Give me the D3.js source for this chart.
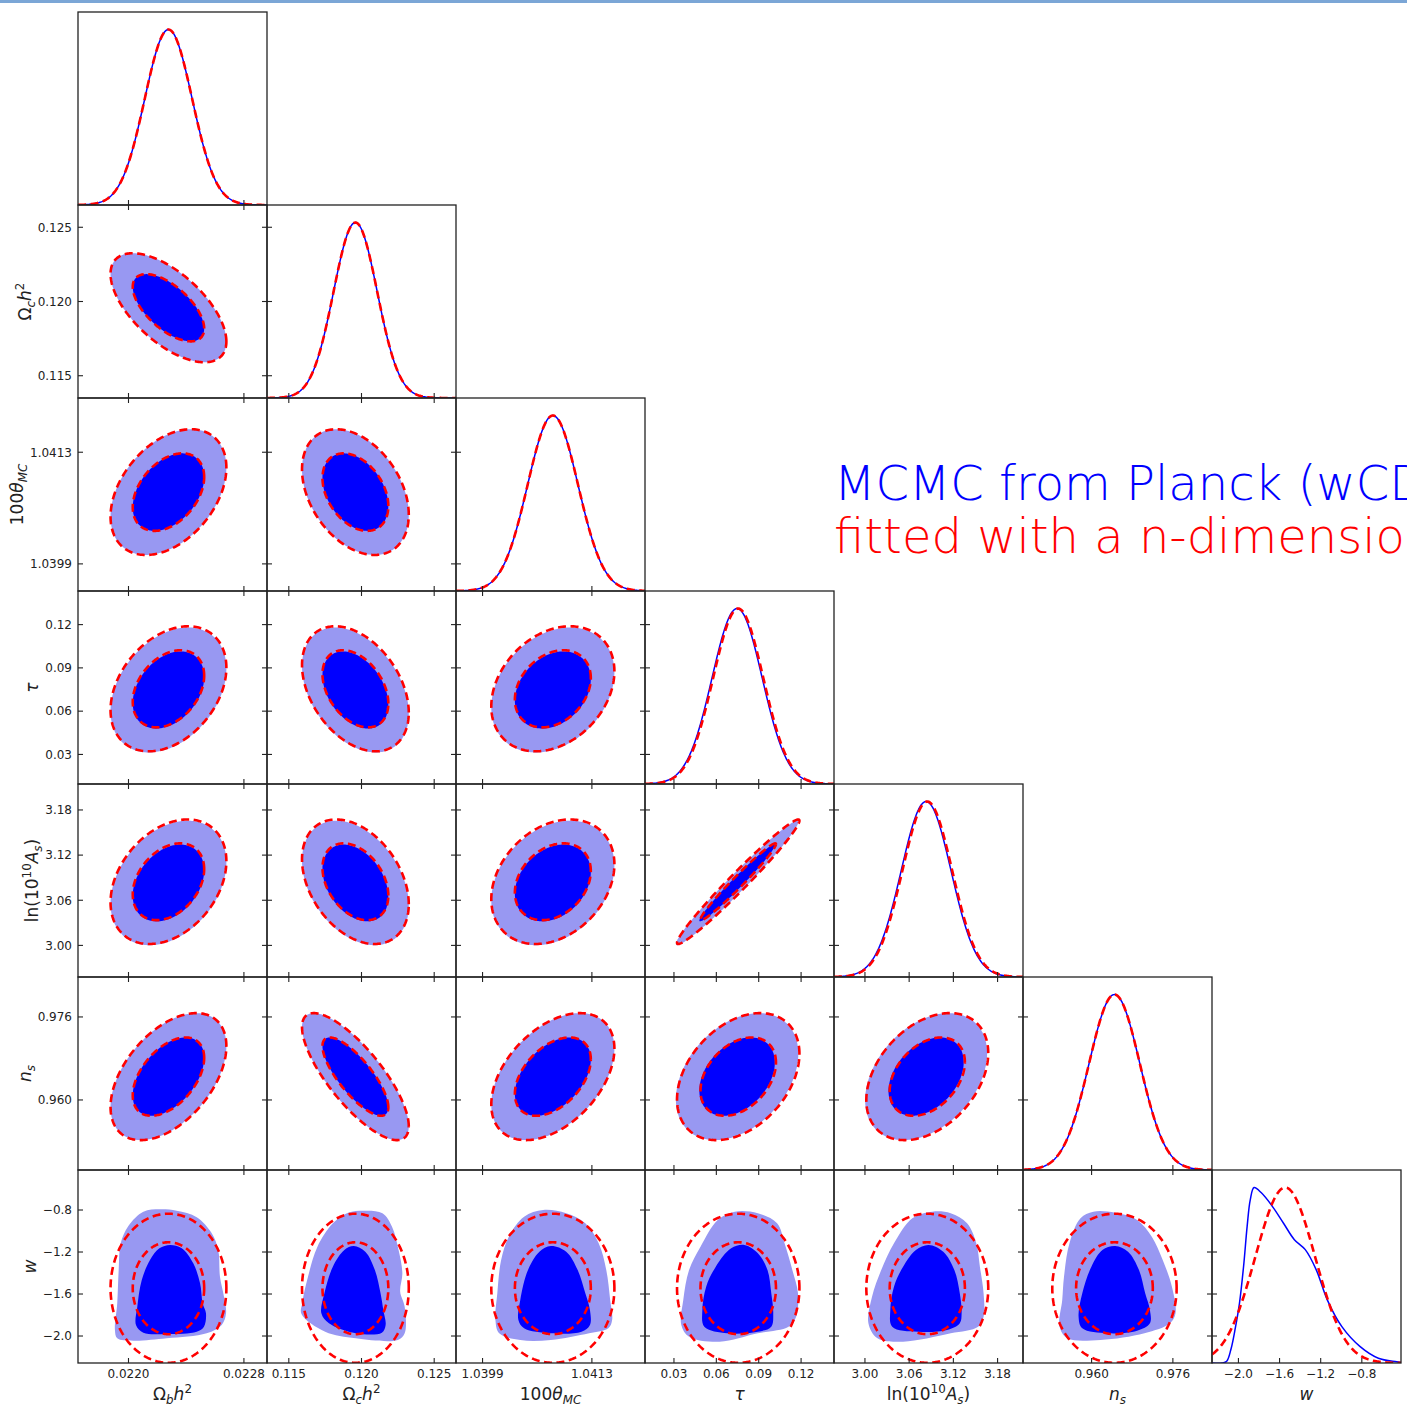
<!DOCTYPE html>
<html>
<head>
<meta charset="utf-8">
<script src="https://cdn.jsdelivr.net/npm/d3@7"></script>
<style>
  html, body { margin: 0; padding: 0; background: #fff; }
  svg { display: block; }
  text { font-family: "DejaVu Sans", "Liberation Sans", sans-serif; }
</style>
</head>
<body>
<svg id="chart" width="1407" height="1407"></svg>
<script>
// ---- parameters of the wCDM chain ----
const paramNames = ["omegabh2", "omegach2", "theta", "tau", "logA", "ns", "w"];

const axisLabels = [
  [["Ω", "n"], ["b", "subi"], ["h", "i"], ["2", "sup"]],
  [["Ω", "n"], ["c", "subi"], ["h", "i"], ["2", "sup"]],
  [["100", "n"], ["θ", "i"], ["MC", "subi"]],
  [["τ", "i"]],
  [["ln(10", "n"], ["10", "sup"], ["A", "i"], ["s", "subi"], [")", "n"]],
  [["n", "i"], ["s", "subi"]],
  [["w", "i"]]
];

const domains = [
  [0.02165, 0.02296],
  [0.1135, 0.1265],
  [1.03956, 1.04198],
  [0.0095, 0.1433],
  [2.958, 3.2145],
  [0.9465, 0.9837],
  [-2.257, -0.419]
];

const tickValues = [
  [0.0220, 0.0228],
  [0.115, 0.120, 0.125],
  [1.0399, 1.0413],
  [0.03, 0.06, 0.09, 0.12],
  [3.00, 3.06, 3.12, 3.18],
  [0.960, 0.976],
  [-2.0, -1.6, -1.2, -0.8]
];

const tickLabels = [
  ["0.0220", "0.0228"],
  ["0.115", "0.120", "0.125"],
  ["1.0399", "1.0413"],
  ["0.03", "0.06", "0.09", "0.12"],
  ["3.00", "3.06", "3.12", "3.18"],
  ["0.960", "0.976"],
  ["−2.0", "−1.6", "−1.2", "−0.8"]
];

// n-dimensional Gaussian fit
const fitMean  = [0.022277, 0.11958, 1.04080, 0.0755, 3.0846, 0.9645, -1.545];
const fitSigma = [0.000164, 0.00150, 0.000322, 0.0177, 0.0338, 0.0050, 0.290];

// MCMC summary for the (near-Gaussian) base parameters
const mcmcMean  = [0.022277, 0.11958, 1.04080, 0.0747, 3.0830, 0.9645];
const mcmcSigma = [0.000164, 0.00150, 0.000322, 0.0177, 0.0338, 0.0050];

// correlation matrix (order as paramNames)
const corr = [
  [ 1.00, -0.62,  0.39,  0.34,  0.33,  0.48, 0.00],
  [-0.62,  1.00, -0.36, -0.38, -0.36, -0.78, 0.00],
  [ 0.39, -0.36,  1.00,  0.28,  0.28,  0.44, 0.00],
  [ 0.34, -0.38,  0.28,  1.00,  0.98,  0.36, 0.00],
  [ 0.33, -0.36,  0.28,  0.98,  1.00,  0.37, 0.00],
  [ 0.48, -0.78,  0.44,  0.36,  0.37,  1.00, 0.00],
  [ 0.00,  0.00,  0.00,  0.00,  0.00,  0.00, 1.00]
];

// chi-square levels for the 95% and 68% two-dimensional regions
const contourLevels = [5.991, 2.279];

// MCMC marginal of w (normalised to peak 1)
const mcmcW1D = [
  [-2.257, 0], [-2.160, 0], [-2.114, 0.01], [-2.072, 0.08], [-2.030, 0.20],
  [-1.990, 0.34], [-1.950, 0.55], [-1.915, 0.78], [-1.885, 0.93], [-1.848, 1.0],
  [-1.777, 0.970], [-1.670, 0.893], [-1.563, 0.798], [-1.456, 0.703], [-1.350, 0.646],
  [-1.243, 0.531], [-1.136, 0.36], [-0.994, 0.207], [-0.816, 0.093], [-0.639, 0.027],
  [-0.461, 0.007], [-0.419, 0.003]
];

// MCMC 95% regions in the (parameter, w) planes
const mcmcWOuter = [
  [[0.022103,-0.816],[0.022218,-0.793],[0.022334,-0.807],[0.022473,-0.869],[0.022577,-1.022],[0.022622,-1.181],[0.022634,-1.435],[0.022662,-1.626],[0.022676,-1.784],[0.022646,-1.895],[0.022542,-1.974],[0.022265,-2.022],[0.022033,-2.045],[0.021922,-2.022],[0.021906,-1.943],[0.021922,-1.688],[0.021932,-1.371],[0.021946,-1.117],[0.021999,-0.952]],
  [[0.12013,-0.807],[0.12144,-0.831],[0.12210,-0.959],[0.12255,-1.181],[0.12281,-1.403],[0.12266,-1.578],[0.12297,-1.721],[0.12297,-1.974],[0.12250,-2.038],[0.11961,-2.022],[0.11750,-1.959],[0.11587,-1.790],[0.11592,-1.688],[0.11632,-1.435],[0.11697,-1.149],[0.11803,-0.927],[0.11908,-0.826]],
  [[1.040677,-0.800],[1.040971,-0.831],[1.041216,-0.927],[1.041387,-1.117],[1.041484,-1.371],[1.041534,-1.657],[1.041559,-1.848],[1.041510,-1.927],[1.041264,-1.974],[1.040775,-2.038],[1.040383,-2.038],[1.040113,-1.974],[1.040065,-1.848],[1.040089,-1.593],[1.040138,-1.276],[1.040236,-1.054],[1.040432,-0.864]],
  [[0.0731,-0.816],[0.0894,-0.831],[0.1030,-0.927],[0.1083,-1.117],[0.1138,-1.371],[0.1178,-1.593],[0.1165,-1.816],[0.1111,-1.911],[0.0894,-1.974],[0.0623,-2.054],[0.0407,-2.007],[0.0352,-1.895],[0.0366,-1.657],[0.0407,-1.371],[0.0488,-1.149],[0.0610,-0.895]],
  [[3.0915,-0.816],[3.1164,-0.831],[3.1386,-0.927],[3.1511,-1.117],[3.1560,-1.340],[3.1610,-1.593],[3.1610,-1.816],[3.1536,-1.911],[3.1164,-1.974],[3.0518,-2.054],[3.0170,-2.022],[3.0047,-1.879],[3.0096,-1.626],[3.0221,-1.371],[3.0394,-1.117],[3.0643,-0.879]],
  [[0.96034,-0.816],[0.96465,-0.826],[0.96896,-0.895],[0.97185,-1.054],[0.97400,-1.276],[0.97581,-1.530],[0.97652,-1.784],[0.97543,-1.879],[0.97040,-1.974],[0.96177,-2.038],[0.95530,-2.022],[0.95370,-1.911],[0.95422,-1.657],[0.95457,-1.435],[0.95565,-1.117],[0.95782,-0.879]]
];

// MCMC 68% regions in the (parameter, w) planes
const mcmcWInner = [
  [[0.022288,-1.133],[0.022369,-1.165],[0.022449,-1.308],[0.022496,-1.498],[0.022514,-1.688],[0.022537,-1.784],[0.022523,-1.911],[0.022473,-1.959],[0.022265,-1.981],[0.022103,-1.968],[0.022052,-1.895],[0.022061,-1.721],[0.022092,-1.467],[0.022149,-1.276],[0.022214,-1.165]],
  [[0.11947,-1.143],[0.12026,-1.197],[0.12092,-1.371],[0.12131,-1.593],[0.12150,-1.752],[0.12166,-1.895],[0.12140,-1.968],[0.11961,-1.974],[0.11776,-1.879],[0.11724,-1.784],[0.11745,-1.593],[0.11803,-1.340],[0.11882,-1.181]],
  [[1.040775,-1.143],[1.040971,-1.197],[1.041118,-1.371],[1.041216,-1.593],[1.041275,-1.752],[1.041275,-1.895],[1.041167,-1.959],[1.040775,-1.974],[1.040432,-1.927],[1.040359,-1.848],[1.040383,-1.657],[1.040482,-1.371],[1.040628,-1.197]],
  [[0.0799,-1.133],[0.0894,-1.212],[0.0962,-1.371],[0.0989,-1.593],[0.1003,-1.784],[0.0989,-1.911],[0.0894,-1.959],[0.0678,-1.974],[0.0515,-1.911],[0.0501,-1.752],[0.0528,-1.530],[0.0596,-1.340],[0.0705,-1.165]],
  [[3.0865,-1.133],[3.1063,-1.197],[3.1213,-1.371],[3.1287,-1.593],[3.1312,-1.784],[3.1287,-1.879],[3.1114,-1.943],[3.0717,-1.959],[3.0370,-1.911],[3.0344,-1.752],[3.0394,-1.530],[3.0518,-1.340],[3.0692,-1.181]],
  [[0.96465,-1.143],[0.96717,-1.197],[0.96933,-1.371],[0.97055,-1.593],[0.97148,-1.752],[0.97148,-1.879],[0.96896,-1.949],[0.96321,-1.974],[0.95817,-1.927],[0.95744,-1.816],[0.95817,-1.593],[0.95996,-1.340],[0.96213,-1.181]]
];

const titleLines = [
  { text: "MCMC from Planck (wCDM)", color: "#0000ff" },
  { text: "fitted with a n-dimensional Gaussian", color: "#ff0000" }
];

// ---- layout ----
const N = paramNames.length;
const X0 = 78, Y0 = 12, PW = 189, PH = 193;
const BLUE = "#0000ff", LIGHT = "#9898f2", RED = "#ff0000", INK = "#222";
const TICK = 5;

const svg = d3.select("#chart");
svg.append("rect").attr("x", 0).attr("y", 0).attr("width", 1407).attr("height", 3).attr("fill", "#7ba6d6");
const defs = svg.append("defs");

const xs = domains.map((d, i) => d3.scaleLinear().domain(d).range([X0 + i * PW, X0 + (i + 1) * PW]));
const ys = domains.map((d, i) => d3.scaleLinear().domain(d).range([Y0 + (i + 1) * PH, Y0 + i * PH]));

// contour of a bivariate Gaussian at a given chi-square level
function gaussEllipse(i, j, mean, sigma, k2) {
  const k = Math.sqrt(k2), r = corr[i][j], s = Math.sqrt(1 - r * r);
  return d3.range(0, 241).map(n => {
    const t = n / 240 * 2 * Math.PI;
    return [mean[i] + k * sigma[i] * Math.cos(t),
            mean[j] + k * sigma[j] * (r * Math.cos(t) + s * Math.sin(t))];
  });
}
// normalised 1D Gaussian profile across a parameter range
function gaussProfile(i, mean, sigma) {
  const [a, b] = domains[i];
  return d3.range(0, 301).map(n => {
    const v = a + (b - a) * n / 300, z = (v - mean[i]) / sigma[i];
    return [v, Math.exp(-0.5 * z * z)];
  });
}

function mathLabel(sel, parts, fs) {
  let shift = 0;
  parts.forEach(([t, k]) => {
    let target = 0, size = fs;
    if (k.startsWith("sub")) { target = 0.24 * fs; size = 0.7 * fs; }
    if (k === "sup") { target = -0.42 * fs; size = 0.7 * fs; }
    const ts = sel.append("tspan").text(t).attr("font-size", size).attr("dy", target - shift);
    shift = target;
    if (k.endsWith("i")) ts.attr("font-style", "italic");
  });
}

for (let r = 0; r < N; r++) {
  for (let c = 0; c <= r; c++) {
    const px = X0 + c * PW, py = Y0 + r * PH;
    const id = `clip-${r}-${c}`;
    defs.append("clipPath").attr("id", id)
      .append("rect").attr("x", px).attr("y", py).attr("width", PW).attr("height", PH);
    const g = svg.append("g").attr("clip-path", `url(#${id})`);

    if (r === c) {
      const yD = d3.scaleLinear().domain([0, 1.1]).range([py + PH, py]);
      const line = d3.line().x(d => xs[c](d[0])).y(d => yD(d[1]));
      const blue = (c === N - 1) ? mcmcW1D : gaussProfile(c, mcmcMean, mcmcSigma);
      g.append("path").attr("d", (c === N - 1 ? line.curve(d3.curveCatmullRom.alpha(0.5)) : line)(blue))
        .attr("fill", "none").attr("stroke", BLUE).attr("stroke-width", 1.5);
      const lineR = d3.line().x(d => xs[c](d[0])).y(d => yD(d[1]));
      g.append("path").attr("d", lineR(gaussProfile(c, fitMean, fitSigma)))
        .attr("fill", "none").attr("stroke", RED).attr("stroke-width", 2.6)
        .attr("stroke-dasharray", "8,4.5");
    } else {
      const line = d3.line().x(d => xs[c](d[0])).y(d => ys[r](d[1]));
      if (r === N - 1) {
        const closed = d3.line().x(d => xs[c](d[0])).y(d => ys[r](d[1]))
          .curve(d3.curveCatmullRomClosed.alpha(0.5));
        g.append("path").attr("d", closed(mcmcWOuter[c])).attr("fill", LIGHT);
        g.append("path").attr("d", closed(mcmcWInner[c])).attr("fill", BLUE);
      } else {
        g.append("path").attr("d", line(gaussEllipse(c, r, mcmcMean, mcmcSigma, contourLevels[0]))).attr("fill", LIGHT);
        g.append("path").attr("d", line(gaussEllipse(c, r, mcmcMean, mcmcSigma, contourLevels[1]))).attr("fill", BLUE);
      }
      contourLevels.forEach(k2 => {
        g.append("path").attr("d", line(gaussEllipse(c, r, fitMean, fitSigma, k2)))
          .attr("fill", "none").attr("stroke", RED).attr("stroke-width", 2.6)
          .attr("stroke-dasharray", "8,4.5");
      });
    }

    // ticks (inward)
    const tg = svg.append("g").attr("stroke", INK).attr("stroke-width", 1.1);
    tickValues[c].forEach(v => {
      const x = xs[c](v);
      tg.append("line").attr("x1", x).attr("x2", x).attr("y1", py + PH).attr("y2", py + PH - TICK);
      if (r !== c) tg.append("line").attr("x1", x).attr("x2", x).attr("y1", py).attr("y2", py + TICK);
    });
    if (r > 0) {
      tickValues[r].forEach(v => {
        const y = ys[r](v);
        tg.append("line").attr("x1", px).attr("x2", px + TICK).attr("y1", y).attr("y2", y);
        if (r !== c) tg.append("line").attr("x1", px + PW).attr("x2", px + PW - TICK).attr("y1", y).attr("y2", y);
      });
    }

    svg.append("rect").attr("x", px).attr("y", py).attr("width", PW).attr("height", PH)
      .attr("fill", "none").attr("stroke", INK).attr("stroke-width", 1.3);
  }
}

// bottom tick labels and axis labels
for (let c = 0; c < N; c++) {
  tickValues[c].forEach((v, k) => {
    svg.append("text").attr("x", xs[c](v)).attr("y", 1378).attr("text-anchor", "middle")
      .attr("font-size", 12).attr("fill", INK).text(tickLabels[c][k]);
  });
  const t = svg.append("text").attr("x", X0 + c * PW + PW / 2).attr("y", 1400)
    .attr("text-anchor", "middle").attr("fill", INK);
  mathLabel(t, axisLabels[c], 17);
}

// left tick labels and axis labels
for (let r = 1; r < N; r++) {
  let minX = Infinity;
  tickValues[r].forEach((v, k) => {
    const t = svg.append("text").attr("x", 72).attr("y", ys[r](v) + 4.3).attr("text-anchor", "end")
      .attr("font-size", 12).attr("fill", INK).text(tickLabels[r][k]);
    minX = Math.min(minX, t.node().getBBox().x);
  });
  const cy = Y0 + r * PH + PH / 2;
  const t = svg.append("text").attr("text-anchor", "middle").attr("fill", INK)
    .attr("transform", `translate(${minX - 7},${cy}) rotate(-90)`);
  mathLabel(t, axisLabels[r], 17);
}

// title block
titleLines.forEach((ln, i) => {
  svg.append("text").attr("x", 834).attr("y", 500 + i * 53)
    .attr("font-size", 48).attr("font-weight", 200).attr("fill", ln.color).text(ln.text);
});
</script>
</body>
</html>
